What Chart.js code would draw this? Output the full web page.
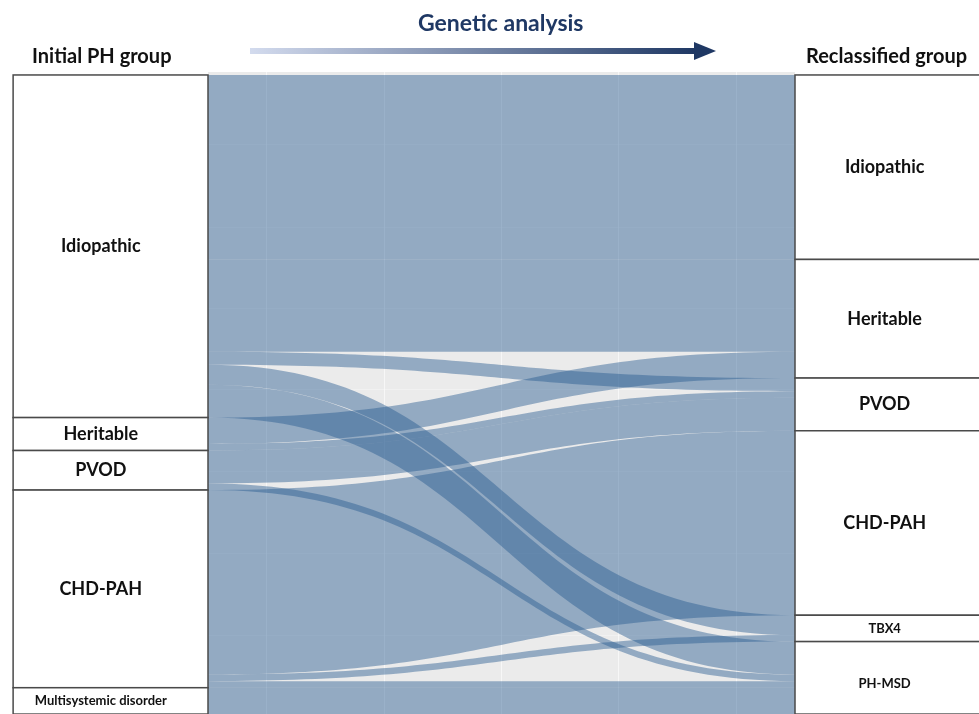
<!DOCTYPE html>
<html>
<head>
<meta charset="utf-8">
<script src="https://cdn.jsdelivr.net/npm/chart.js@4.4.0/dist/chart.umd.min.js"></script>
<style>
  html, body { margin: 0; padding: 0; background: #fff; overflow: hidden; }
  #wrap { position: relative; width: 979px; height: 720px; }
  .hdr { position: absolute; font-family: Lato, 'Open Sans', sans-serif; font-weight: 700; white-space: nowrap; line-height: 1; }
</style>
</head>
<body>
<div id="wrap">
  <canvas id="sankey"></canvas>
  <div class="hdr" style="left:32px; top:45px; font-size:20px; color:#111;">Initial PH group</div>
  <div class="hdr" style="left:806px; top:45px; font-size:20px; color:#111;">Reclassified group</div>
  <div class="hdr" style="left:418px; top:11px; font-size:23px; color:#1f3864;">Genetic analysis</div>
</div>
<script>
// nodes on each side (top to bottom)
const leftNodes = ['Idiopathic', 'Heritable', 'PVOD', 'CHD-PAH', 'Multisystemic disorder'];
const rightNodes = ['Idiopathic', 'Heritable', 'PVOD', 'CHD-PAH', 'TBX4', 'PH-MSD'];

// flows: index into leftNodes -> index into rightNodes, number of patients
const flowFrom  = [0, 0, 0, 0, 0, 1, 1, 2, 2, 3, 3, 3, 4];
const flowTo    = [0, 1, 2, 4, 5, 1, 2, 2, 5, 3, 4, 5, 5];
const flowCount = [28, 14, 2, 3, 5, 4, 1, 5, 1, 28, 1, 1, 4];

// panel grid positions
const xGridAt = [0.1, 0.3, 0.5, 0.7, 0.9];
const yGridAt = [10.6, 23.1, 35.4, 47.8, 60.2, 72.7, 85.1];

// labels written in the small font
const smallLabels = ['Multisystemic disorder', 'TBX4', 'PH-MSD'];

const STRATUM_W = 0.332;  // box width in panel units
const FLOW_FILL = 'rgba(40, 90, 145, 0.45)';

function sumBy(keys, n) {
    const tot = new Array(n).fill(0);
    keys.forEach((k, i) => { tot[k] += flowCount[i]; });
    return tot;
}
const leftTotals = sumBy(flowFrom, leftNodes.length);
const rightTotals = sumBy(flowTo, rightNodes.length);

// stack flows: left side ordered by (from, to), right side by (to, from)
function stackFlows() {
    const idx = flowCount.map((_, i) => i);
    const left = [], right = [];
    let acc = 0;
    idx.slice().sort((a, b) => flowFrom[a] - flowFrom[b] || flowTo[a] - flowTo[b])
        .forEach(i => { left[i] = [acc, acc + flowCount[i]]; acc += flowCount[i]; });
    acc = 0;
    idx.slice().sort((a, b) => flowTo[a] - flowTo[b] || flowFrom[a] - flowFrom[b])
        .forEach(i => { right[i] = [acc, acc + flowCount[i]]; acc += flowCount[i]; });
    return { left, right };
}

function cumulative(totals) {
    let acc = 0;
    return totals.map(t => { const r = [acc, acc + t]; acc += t; return r; });
}

const sankeyPlugin = {
    id: 'sankey',
    beforeDraw(chart) {
        const { ctx, chartArea: a } = chart;
        ctx.save();
        ctx.fillStyle = '#ebebeb';
        ctx.fillRect(a.left, a.top, a.right - a.left, a.bottom - a.top);
        ctx.restore();
    },
    beforeDatasetsDraw(chart) {
        const { ctx } = chart;
        const xs = chart.scales.x, ys = chart.scales.y;
        const x0 = xs.getPixelForValue(0), x1 = xs.getPixelForValue(1);
        const xm = (x0 + x1) / 2;
        const { left, right } = stackFlows();
        ctx.save();
        ctx.fillStyle = FLOW_FILL;
        flowCount.forEach((_, i) => {
            const l0 = ys.getPixelForValue(left[i][0]), l1 = ys.getPixelForValue(left[i][1]);
            const r0 = ys.getPixelForValue(right[i][0]), r1 = ys.getPixelForValue(right[i][1]);
            ctx.beginPath();
            ctx.moveTo(x0, l0);
            ctx.bezierCurveTo(xm, l0, xm, r0, x1, r0);
            ctx.lineTo(x1, r1);
            ctx.bezierCurveTo(xm, r1, xm, l1, x0, l1);
            ctx.closePath();
            ctx.fill();
        });
        ctx.restore();
    },
    afterDraw(chart) {
        const { ctx } = chart;
        const xs = chart.scales.x, ys = chart.scales.y;

        // genetic analysis arrow
        const ax0 = 250, ax1 = 696, ay = 51;
        const grad = ctx.createLinearGradient(ax0, 0, ax1, 0);
        grad.addColorStop(0, '#d3dbee');
        grad.addColorStop(1, '#1f3864');
        ctx.save();
        ctx.fillStyle = grad;
        ctx.fillRect(ax0, ay - 3, ax1 - ax0, 6);
        ctx.fillStyle = '#1f3864';
        ctx.beginPath();
        ctx.moveTo(ax1 - 2, ay - 9);
        ctx.lineTo(ax1 + 20, ay);
        ctx.lineTo(ax1 - 2, ay + 9);
        ctx.closePath();
        ctx.fill();
        ctx.restore();

        // strata boxes + labels
        const sides = [
            { names: leftNodes, spans: cumulative(leftTotals), xa: xs.getPixelForValue(-STRATUM_W), xb: xs.getPixelForValue(0), lx: 0.45 },
            { names: rightNodes, spans: cumulative(rightTotals), xa: xs.getPixelForValue(1), xb: xs.getPixelForValue(1 + STRATUM_W), lx: 0.46 }
        ];
        ctx.save();
        ctx.strokeStyle = '#4a4a4a';
        ctx.lineWidth = 1.5;
        ctx.textAlign = 'center';
        ctx.textBaseline = 'middle';
        sides.forEach(s => {
            s.names.forEach((name, i) => {
                const yTop = ys.getPixelForValue(s.spans[i][0]);
                const yBot = ys.getPixelForValue(s.spans[i][1]);
                ctx.fillStyle = '#fff';
                ctx.fillRect(s.xa, yTop, s.xb - s.xa, yBot - yTop);
                ctx.strokeRect(s.xa, yTop, s.xb - s.xa, yBot - yTop);
                const small = smallLabels.includes(name);
                ctx.fillStyle = '#111';
                ctx.font = (small ? '700 13px' : '700 18px') + ' Lato, "Open Sans", sans-serif';
                const ty = (name === 'PH-MSD') ? (yTop + yBot) / 2 + 6 : (yTop + yBot) / 2;
                ctx.fillText(name, s.xa + (s.xb - s.xa) * s.lx, ty);
            });
        });
        ctx.restore();
    }
};

new Chart(document.getElementById('sankey'), {
    type: 'scatter',
    data: { datasets: [] },
    options: {
        responsive: true,
        maintainAspectRatio: false,
        animation: false,
        layout: { padding: { left: 208, right: 184, top: 72, bottom: 0 } },
        plugins: { legend: { display: false }, tooltip: { enabled: false } },
        scales: {
            x: {
                type: 'linear', min: 0, max: 1,
                afterBuildTicks: s => { s.ticks = xGridAt.map(v => ({ value: v })); },
                ticks: { display: false },
                grid: { color: 'rgba(255,255,255,0.6)', lineWidth: 1, drawTicks: false },
                border: { display: false }
            },
            y: {
                type: 'linear', reverse: true, min: -0.45, max: 97.9,
                afterBuildTicks: s => { s.ticks = yGridAt.map(v => ({ value: v })); },
                ticks: { display: false },
                grid: { color: 'rgba(255,255,255,0.3)', lineWidth: 1, drawTicks: false },
                border: { display: false }
            }
        }
    },
    plugins: [sankeyPlugin]
});
</script>
</body>
</html>
